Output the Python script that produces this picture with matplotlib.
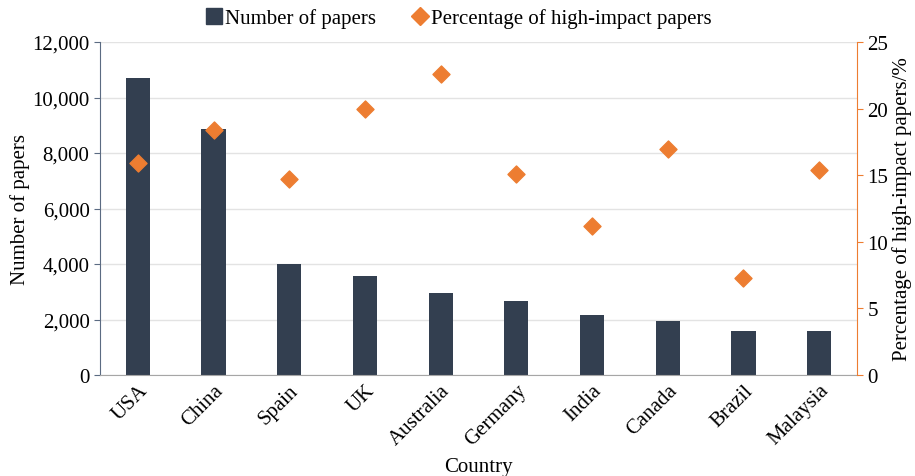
import numpy as np
import matplotlib
matplotlib.use("Agg")
import matplotlib.pyplot as plt
from matplotlib.lines import Line2D
from matplotlib.ticker import FuncFormatter

plt.rcParams["font.family"] = ["Liberation Serif", "DejaVu Serif"]

countries = ["USA", "China", "Spain", "UK", "Australia", "Germany",
             "India", "Canada", "Brazil", "Malaysia"]
num_papers = [10720, 8880, 3990, 3560, 2940, 2650, 2170, 1930, 1600, 1570]
pct_high_impact = [15.9, 18.4, 14.7, 20.0, 22.6, 15.1, 11.2, 17.0, 7.3, 15.4]

BAR_COLOR = "#333F50"
DOT_COLOR = "#ED7D31"

fig = plt.figure(figsize=(9.15, 4.77), dpi=100)
ax = fig.add_axes([100 / 915, 1 - 376 / 477, 757 / 915, 333 / 477])
ax2 = ax.twinx()

x = np.arange(len(countries))
ax.bar(x, num_papers, width=0.32, color=BAR_COLOR, zorder=2)
ax2.scatter(x, pct_high_impact, marker="D", s=75, color=DOT_COLOR, zorder=3)

ax.set_xlim(-0.5, len(countries) - 0.5)
ax.set_ylim(0, 12000)
ax.set_yticks(np.arange(0, 12001, 2000))
ax.yaxis.set_major_formatter(FuncFormatter(lambda v, p: f"{int(v):,}"))
ax2.set_ylim(0, 25)
ax2.set_yticks(np.arange(0, 26, 5))

ax.grid(axis="y", color="#E3E3E3", linewidth=1, zorder=0)
ax.set_axisbelow(True)

for s in ["top", "right"]:
    ax.spines[s].set_visible(False)
ax.spines["left"].set_color("#5B6B82")
ax.spines["bottom"].set_color("#A6A6A6")
ax2.spines["top"].set_visible(False)
ax2.spines["left"].set_visible(False)
ax2.spines["bottom"].set_visible(False)
ax2.spines["right"].set_color(DOT_COLOR)

ax.tick_params(axis="y", colors="#5B6B82", labelcolor="black",
               labelsize=15, length=4)
ax2.tick_params(axis="y", colors=DOT_COLOR, labelcolor="black",
                labelsize=15, length=4)
ax.tick_params(axis="x", length=0, labelsize=15, pad=4)
ax.set_xticks(x)
ax.set_xticklabels(countries, rotation=45, ha="right", rotation_mode="anchor")

ax.set_xlabel("Country", fontsize=15, labelpad=6)
ax.set_ylabel("Number of papers", fontsize=15, labelpad=2)
ax2.set_ylabel("Percentage of high-impact papers/%", fontsize=15, labelpad=3)

# legend with square / diamond markers like the original
handles = [
    Line2D([], [], linestyle="none", marker="s", markersize=11,
           color=BAR_COLOR, label="Number of papers"),
    Line2D([], [], linestyle="none", marker="D", markersize=9,
           color=DOT_COLOR, label="Percentage of high-impact papers"),
]
fig.legend(handles=handles, loc="upper center", ncol=2,
           bbox_to_anchor=(0.5, 1.02), frameon=False, fontsize=15,
           handletextpad=0.05, columnspacing=1.6, handlelength=1.0)

fig.savefig("out.png", dpi=100)
